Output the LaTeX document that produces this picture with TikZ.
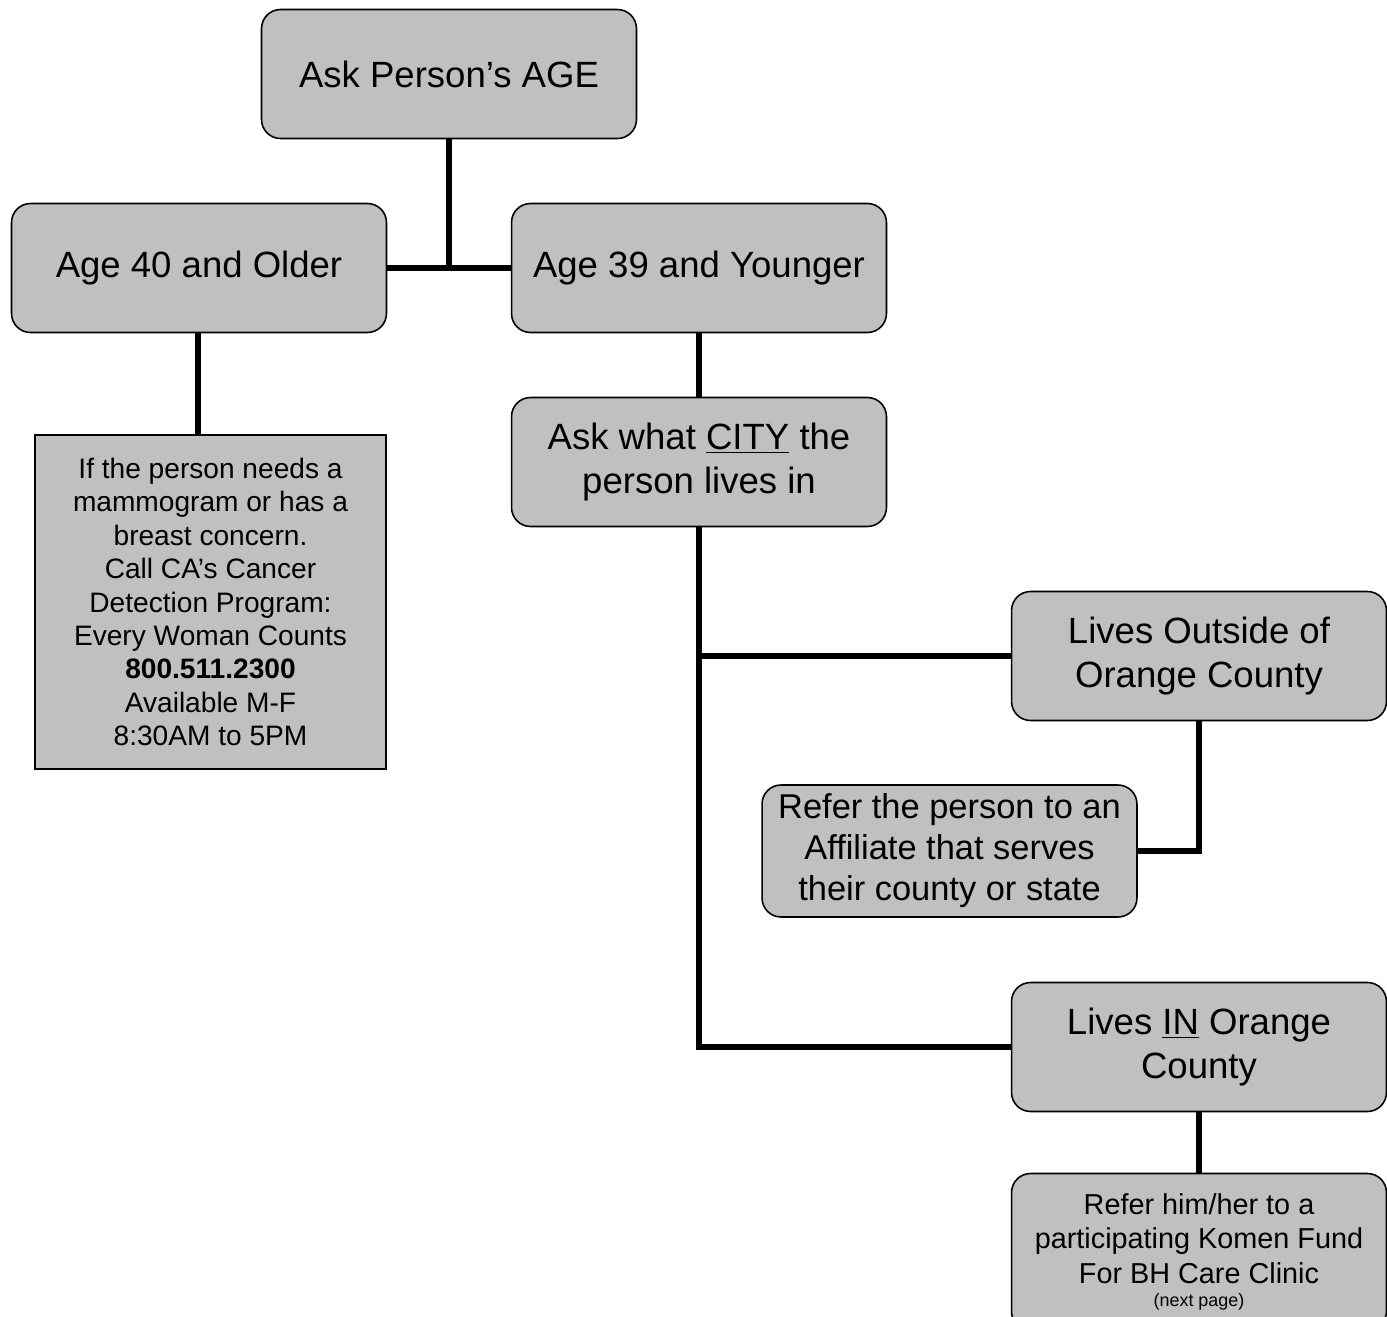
\documentclass[tikz,border=0pt]{standalone}
\usepackage{fontspec}
\setmainfont{Liberation Sans}
\definecolor{boxgray}{RGB}{192,192,192}
\newcommand{\bigtxt}{\fontsize{20.8}{24.8}\selectfont}
\newcommand{\midtxt}{\fontsize{19.6}{23.3}\selectfont}
\newcommand{\smalltxt}{\fontsize{16}{19}\selectfont}
\newcommand{\komentxt}{\fontsize{16.4}{19.6}\selectfont}
\newcommand{\notetxt}{\fontsize{10.2}{12}\selectfont}
\tikzset{
  box/.style={draw, line width=0.9pt, fill=boxgray, rounded corners=0.38cm,
    align=center, inner sep=0pt, minimum width=7.5cm, minimum height=2.58cm},
  infobox/.style={draw, line width=0.9pt, fill=boxgray, align=center,
    inner sep=0pt, minimum width=7.02cm, minimum height=6.68cm},
  link/.style={line width=3.2pt}
}
\begin{document}
\begin{tikzpicture}[x=0.02cm,y=-0.02cm]
\clip (0,0) rectangle (1387,1316);
\fill[white] (0,0) rectangle (1387,1316);
% question boxes
\node[box, font=\bigtxt] (age) at (449,74) {Ask Person's AGE};
\node[box, font=\bigtxt] (older) at (199,268) {Age 40 and Older};
\node[box, font=\bigtxt] (younger) at (699,268) {Age 39 and Younger};
\node[infobox, font=\smalltxt] (info) at (210.5,602) {If the person needs a\\mammogram or has a\\breast concern.\\Call CA's Cancer\\Detection Program:\\Every Woman Counts\\\textbf{800.511.2300}\\Available M-F\\8:30AM to 5PM};
\node[box, font=\bigtxt] (city) at (699,462) {Ask what \underline{CITY} the\\person lives in};
\node[box, font=\bigtxt] (outside) at (1199,656) {Lives Outside of\\Orange County};
\node[box, font=\midtxt, minimum height=2.64cm] (affil) at (949.5,851) {Refer the person to an\\Affiliate that serves\\their county or state};
\node[box, font=\bigtxt] (inoc) at (1199,1047) {Lives \underline{IN} Orange\\County};
\node[box, font=\komentxt, minimum height=3.14cm] (komen) at (1199,1252) {Refer him/her to a\\participating Komen Fund\\For BH Care Clinic\\[-6pt]{\notetxt (next page)}};
% connectors
\draw[link] (age.south) -- (age.south |- older.east);
\draw[link] (older.east) -- (younger.west);
\draw[link] (198,333) -- (198,435);
\draw[link] (younger.south) -- (city.north);
\draw[link] (city.south) |- (inoc.west);
\draw[link] (city.south |- outside.west) -- (outside.west);
\draw[link] (outside.south) |- (affil.east);
\draw[link] (inoc.south) -- (komen.north);
\end{tikzpicture}
\end{document}
